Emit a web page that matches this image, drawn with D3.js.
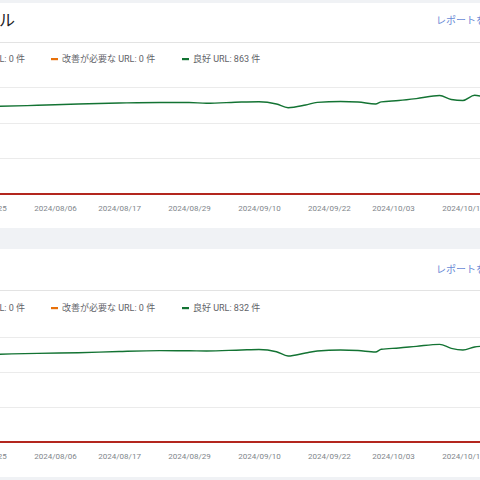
<!DOCTYPE html>
<html>
<head>
<meta charset="utf-8">
<script src="https://cdn.jsdelivr.net/npm/d3@7"></script>
<style>
  body { margin: 0; background: #f0f2f5; }
  svg { display: block; font-family: Roboto, "Noto Sans CJK JP", sans-serif; }
</style>
</head>
<body>
<svg width="480" height="480"></svg>
<script>
// data
var dates = ["2024-07-23","2024-07-27","2024-08-03","2024-08-10","2024-08-17","2024-08-24",
  "2024-08-29","2024-09-01","2024-09-07","2024-09-10","2024-09-13","2024-09-15","2024-09-18",
  "2024-09-20","2024-09-24","2024-09-27","2024-09-30","2024-10-01","2024-10-04","2024-10-07",
  "2024-10-11","2024-10-13","2024-10-15","2024-10-17","2024-10-19","2024-10-22"];
var mobileGood = [734,737,746,757,765,770,770,763,774,776,757,726,749,771,778,774,757,775,786,802,828,795,786,830,816,863];
var desktopGood = [748,752,760,765,776,783,782,780,789,793,774,737,763,780,789,784,771,795,806,820,837,803,789,814,823,832];
var tickDates = ["2024-07-25","2024-08-06","2024-08-17","2024-08-29","2024-09-10","2024-09-22","2024-10-03","2024-10-15"];
var yTicks = [0, 300, 600, 900];
var legendPoor = "不良 URL: 0 件";
var legendNeeds = "改善が必要な URL: 0 件";
var legendGoodMobile = "良好 URL: 863 件";
var legendGoodDesktop = "良好 URL: 832 件";

var parse = d3.timeParse("%Y-%m-%d");
var fmt = d3.timeFormat("%Y/%m/%d");

var svg = d3.select("svg");

// x scale shared by both cards (chart is wider than the window, clipped on both sides)
var x = d3.scaleTime()
    .domain([parse("2024-08-06"), parse("2024-10-03")])
    .range([55, 393]);

var cards = [
  {top: 3, bottom: 228, title: "モバイル", legendGood: legendGoodMobile, values: mobileGood},
  {top: 249, bottom: 477, title: "", legendGood: legendGoodDesktop, values: desktopGood}
];

cards.forEach(function(c, ci) {
  var g = svg.append("g").attr("transform", "translate(0," + c.top + ")");

  g.append("rect")
      .attr("width", 480)
      .attr("height", c.bottom - c.top)
      .attr("fill", "#fff");

  // title (mostly off the left edge)
  g.append("text")
      .attr("x", 15)
      .attr("y", 23)
      .attr("text-anchor", "end")
      .style("font-size", "16px")
      .style("fill", "#202124")
      .text(c.title);

  g.append("text")
      .attr("x", 436)
      .attr("y", ci == 0 ? 21 : 24)
      .style("font-size", "10px")
      .style("fill", "#6a8ad6")
      .text("レポートを開く");

  var sepY = ci == 0 ? 39.5 : 41.5;
  g.append("line")
      .attr("x1", 0).attr("x2", 480)
      .attr("y1", sepY).attr("y2", sepY)
      .attr("stroke", "#e3e3e3");

  // legend
  var ly = ci == 0 ? 56 : 59;
  var legend = g.append("g").style("font-size", "9px").style("fill", "#5f6368");
  legend.append("rect").attr("x", -20).attr("y", ly - 1).attr("width", 7).attr("height", 2.2).attr("fill", "#c5221f");
  legend.append("text").attr("x", 25).attr("y", ly + 3.2).attr("text-anchor", "end").text(legendPoor);
  legend.append("rect").attr("x", 51).attr("y", ly - 1).attr("width", 7).attr("height", 2.2).attr("fill", "#e8710a");
  legend.append("text").attr("x", 62).attr("y", ly + 3.2).text(legendNeeds);
  legend.append("rect").attr("x", 182).attr("y", ly - 1).attr("width", 7).attr("height", 2.2).attr("fill", "#137333");
  legend.append("text").attr("x", 193).attr("y", ly + 3.2).text(c.legendGood);

  // plot area
  var plotTop = ci == 0 ? 84 : 88;
  var plotBottom = ci == 0 ? 191 : 193;
  var y = d3.scaleLinear().domain([0, 900]).range([plotBottom, plotTop]);

  g.selectAll(".grid")
    .data(yTicks.filter(function(t) { return t > 0; }))
    .enter().append("line")
      .attr("class", "grid")
      .attr("x1", 0).attr("x2", 480)
      .attr("y1", function(d) { return Math.round(y(d)) + 0.5; })
      .attr("y2", function(d) { return Math.round(y(d)) + 0.5; })
      .attr("stroke", "#ebebeb");

  var line = d3.line()
      .x(function(d) { return x(d.date); })
      .y(function(d) { return y(d.value); })
      .curve(d3.curveMonotoneX);

  var pts = dates.map(function(d, i) { return {date: parse(d), value: c.values[i]}; });

  g.append("path")
      .datum(pts)
      .attr("fill", "none")
      .attr("stroke", "#137333")
      .attr("stroke-width", 1.4)
      .attr("d", line);

  g.append("line")
      .attr("x1", 0).attr("x2", 480)
      .attr("y1", y(0)).attr("y2", y(0))
      .attr("stroke", "#b3261e")
      .attr("stroke-width", 2);

  var axis = g.append("g")
      .attr("transform", "translate(0," + (y(0) + 1) + ")")
      .call(d3.axisBottom(x)
        .tickValues(tickDates.map(parse))
        .tickFormat(fmt)
        .tickSize(0)
        .tickPadding(10));
  axis.select(".domain").remove();
  axis.selectAll("text")
      .style("font-family", "Roboto, sans-serif")
      .style("font-size", "8px")
      .style("fill", "#80868b");
});
</script>
</body>
</html>
